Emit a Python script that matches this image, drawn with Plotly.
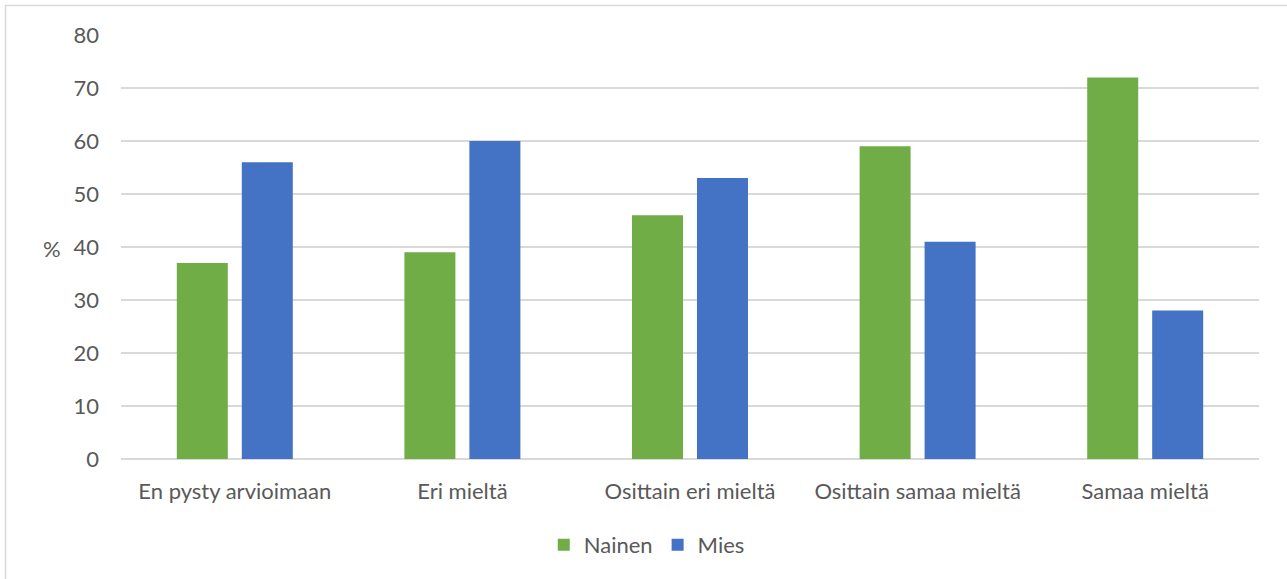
import plotly.graph_objects as go

categories = ["En pysty arvioimaan", "Eri mieltä", "Osittain eri mieltä", "Osittain samaa mieltä", "Samaa mieltä"]
nainen = [37, 39, 46, 59, 72]
mies = [56, 60, 53, 41, 28]
y_ticks = [0, 10, 20, 30, 40, 50, 60, 70, 80]

W, H = 1287, 579
L, R, T, B = 121, 28, 35, 120
pw, ph = W - L - R, H - T - B

font_family = "Lato, Open Sans, sans-serif"
txt = "#595959"
fs = 22


def px_x(p):
    return (p - L) / pw


def px_y(p):
    return (T + ph - p) / ph


fig = go.Figure()
fig.add_trace(go.Bar(name="Nainen", x=categories, y=nainen, marker_color="#70AD47", marker_line_width=0))
fig.add_trace(go.Bar(name="Mies", x=categories, y=mies, marker_color="#4472C4", marker_line_width=0))

fig.update_layout(
    width=W, height=H,
    margin=dict(l=L, r=R, t=T, b=B, autoexpand=False),
    paper_bgcolor="white", plot_bgcolor="white",
    barmode="group", bargap=0.429, bargroupgap=0.215,
    font=dict(family=font_family, size=fs, color=txt),
    showlegend=True,
    legend=dict(orientation="h", x=0.462, xanchor="center", y=px_y(545), yanchor="middle",
                font=dict(size=fs, color=txt), itemwidth=30, traceorder="normal"),
    xaxis=dict(showgrid=False, showline=False, ticks="", ticklabelstandoff=17,
               tickfont=dict(size=fs, color=txt)),
    yaxis=dict(range=[0, 80], tickvals=y_ticks, showgrid=True, gridcolor="#D9D9D9", gridwidth=1.5,
               zeroline=True, zerolinecolor="#D9D9D9", zerolinewidth=1.5, showline=False, ticks="",
               ticklabelstandoff=21, tickfont=dict(size=fs, color=txt)),
)

fig.add_annotation(text="%", xref="paper", yref="paper", x=px_x(52), y=px_y(248),
                   showarrow=False, font=dict(size=fs, color=txt), xanchor="center", yanchor="middle")

# chart border
fig.add_shape(type="rect", xref="paper", yref="paper",
              x0=px_x(5.5), x1=px_x(W + 5), y0=px_y(H + 5), y1=px_y(5.5),
              line=dict(color="#D9D9D9", width=1.5), fillcolor="rgba(0,0,0,0)", layer="below")

fig.write_html("out.html", config={"displayModeBar": False},
               post_script="document.body.style.margin='0';document.body.style.overflow='hidden';")
